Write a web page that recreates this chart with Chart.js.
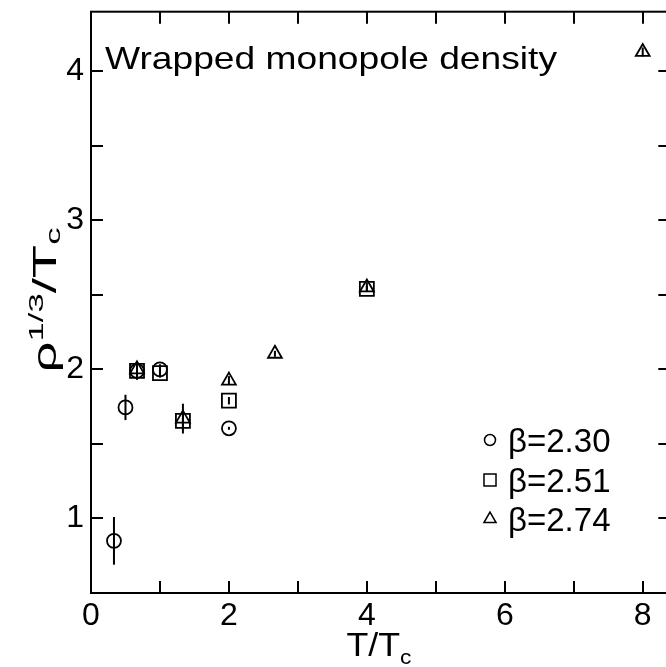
<!DOCTYPE html>
<html>
<head>
<meta charset="utf-8">
<script src="https://cdn.jsdelivr.net/npm/chart.js@4.4.1/dist/chart.umd.min.js"></script>
<style>
    html, body { margin: 0; padding: 0; background: #fff; overflow: hidden; }
</style>
</head>
<body>
<canvas id="chart" width="682" height="667"></canvas>
<script>
// beta = 2.30 (circles)
const b230T = [0.333, 0.5, 0.667, 1.0, 2.0];
const b230Rho = [0.85, 1.745, 1.99, 2.0, 1.605];
const b230Err = [0.16, 0.085, 0.06, 0.035, 0.01];

// beta = 2.51 (squares)
const b251T = [0.667, 1.0, 1.333, 2.0, 4.0];
const b251Rho = [1.99, 1.975, 1.655, 1.79, 2.54];
const b251Err = [0.03, 0.03, 0.06, 0.025, 0.02];

// beta = 2.74 (triangles)
const b274T = [0.667, 1.333, 2.0, 2.667, 4.0, 8.0];
const b274Rho = [2.0, 1.67, 1.925, 2.105, 2.55, 4.13];
const b274Err = [0.03, 0.1, 0.03, 0.02, 0.03, 0.03];

const seriesLabels = ['β=2.30', 'β=2.51', 'β=2.74'];
const xTickLabels = ['0', '2', '4', '6', '8'];
const yTickLabels = ['1', '2', '3', '4'];

const FONT = '"Liberation Sans", Arial, Helvetica, sans-serif';

function toPoints(xs, ys) {
    return xs.map((x, i) => ({ x: x, y: ys[i] }));
}

function makeSet(label, xs, ys, errs, style, radius) {
    return {
        label: label,
        data: toPoints(xs, ys),
        errors: errs,
        pointStyle: style,
        pointRadius: radius,
        pointHoverRadius: radius,
        pointBorderWidth: 1.8,
        borderColor: '#000',
        backgroundColor: 'rgba(0,0,0,0)',
        showLine: false
    };
}

// vertical error bars, no caps
const errorBars = {
    id: 'errorBars',
    afterDatasetsDraw(chart) {
        const ctx = chart.ctx;
        const xs = chart.scales.x, ys = chart.scales.y;
        ctx.save();
        ctx.strokeStyle = '#000';
        ctx.lineWidth = 2;
        chart.data.datasets.forEach(ds => {
            ds.data.forEach((p, i) => {
                const e = ds.errors[i];
                const px = xs.getPixelForValue(p.x);
                ctx.beginPath();
                ctx.moveTo(px, ys.getPixelForValue(p.y - e));
                ctx.lineTo(px, ys.getPixelForValue(p.y + e));
                ctx.stroke();
            });
        });
        ctx.restore();
    }
};

// text made of pieces: [text, size, shift]
function drawPieces(ctx, pieces, length) {
    let total = 0;
    pieces.forEach(p => {
        ctx.font = p[1] + 'px ' + FONT;
        p.w = ctx.measureText(p[0]).width;
        total += p.w;
    });
    ctx.save();
    ctx.scale(length / total, 1);
    let cx = -total / 2;
    pieces.forEach(p => {
        ctx.font = p[1] + 'px ' + FONT;
        ctx.fillText(p[0], cx, p[2]);
        cx += p.w;
    });
    ctx.restore();
}

// frame, inward ticks on all sides, titles and legend
const decorations = {
    id: 'decorations',
    afterDraw(chart) {
        const ctx = chart.ctx;
        const a = chart.chartArea;
        const xs = chart.scales.x, ys = chart.scales.y;
        const tick = 12;
        ctx.save();
        ctx.strokeStyle = '#000';
        ctx.lineWidth = 2;
        ctx.strokeRect(a.left, a.top, a.right - a.left, a.bottom - a.top);

        ctx.beginPath();
        xs.ticks.forEach(t => {
            const px = Math.round(xs.getPixelForValue(t.value));
            ctx.moveTo(px, a.bottom); ctx.lineTo(px, a.bottom - tick);
            ctx.moveTo(px, a.top); ctx.lineTo(px, a.top + tick);
        });
        ys.ticks.forEach(t => {
            const py = Math.round(ys.getPixelForValue(t.value));
            ctx.moveTo(a.left, py); ctx.lineTo(a.left + tick, py);
            ctx.moveTo(a.right, py); ctx.lineTo(a.right - tick, py);
        });
        ctx.stroke();

        ctx.fillStyle = '#000';
        ctx.textBaseline = 'alphabetic';
        ctx.textAlign = 'left';

        // title inside plot
        ctx.font = '32px ' + FONT;
        const title = 'Wrapped monopole density';
        const tw = ctx.measureText(title).width;
        ctx.save();
        ctx.translate(105, 69);
        ctx.scale(452 / tw, 1);
        ctx.fillText(title, 0, 0);
        ctx.restore();

        // x title T/Tc
        ctx.save();
        ctx.translate(379, 656);
        drawPieces(ctx, [['T/T', 33, 0], ['c', 21, 8]], 65);
        ctx.restore();

        // y title rho^(1/3)/Tc
        ctx.save();
        ctx.translate(56, 300);
        ctx.rotate(-Math.PI / 2);
        drawPieces(ctx, [['ρ', 33, 0], ['1/3', 21, -13], ['/T', 33, 0], ['c', 21, 4]], 145);
        ctx.restore();

        // legend
        const rows = [440, 480, 519];
        ctx.font = '33px ' + FONT;
        chart.data.datasets.forEach((ds, i) => {
            ctx.lineWidth = 1.5;
            ctx.strokeStyle = '#000';
            ctx.fillStyle = 'rgba(0,0,0,0)';
            const r = ds.pointStyle === 'rect' ? 8.5 : (ds.pointStyle === 'triangle' ? 7 : 5.5);
            Chart.helpers.drawPoint(ctx, { pointStyle: ds.pointStyle, radius: r, borderWidth: 1.5 }, 490, rows[i]);
            ctx.fillStyle = '#000';
            ctx.fillText(seriesLabels[i], 508, rows[i] + 12);
        });
        ctx.restore();
    }
};

new Chart(document.getElementById('chart'), {
    type: 'scatter',
    data: {
        datasets: [
            makeSet(seriesLabels[0], b230T, b230Rho, b230Err, 'circle', 7),
            makeSet(seriesLabels[1], b251T, b251Rho, b251Err, 'rect', 9.9),
            makeSet(seriesLabels[2], b274T, b274Rho, b274Err, 'triangle', 8)
        ]
    },
    options: {
        responsive: false,
        animation: false,
        devicePixelRatio: 1,
        layout: { padding: { left: 0, top: 11, right: 10, bottom: 0 } },
        plugins: {
            legend: { display: false },
            tooltip: { enabled: false }
        },
        scales: {
            x: {
                type: 'linear',
                min: 0,
                max: 8.4,
                grid: { display: false, drawTicks: false },
                border: { display: false },
                afterFit: s => { s.height = 74; s.paddingLeft = 0; s.paddingRight = 0; },
                ticks: {
                    stepSize: 1,
                    includeBounds: false,
                    autoSkip: false,
                    maxRotation: 0,
                    padding: 4,
                    color: '#000',
                    font: { family: FONT, size: 32 },
                    callback: v => {
                        const lab = String(v);
                        return xTickLabels.includes(lab) ? lab : '';
                    }
                }
            },
            y: {
                type: 'linear',
                min: 0.5,
                max: 4.4,
                grid: { display: false, drawTicks: false },
                border: { display: false },
                afterFit: s => { s.width = 91; s.paddingTop = 0; s.paddingBottom = 0; },
                ticks: {
                    stepSize: 0.5,
                    includeBounds: false,
                    autoSkip: false,
                    padding: 7,
                    color: '#000',
                    font: { family: FONT, size: 32 },
                    callback: v => {
                        const lab = String(v);
                        return yTickLabels.includes(lab) ? lab : '';
                    }
                }
            }
        }
    },
    plugins: [errorBars, decorations]
});
</script>
</body>
</html>
